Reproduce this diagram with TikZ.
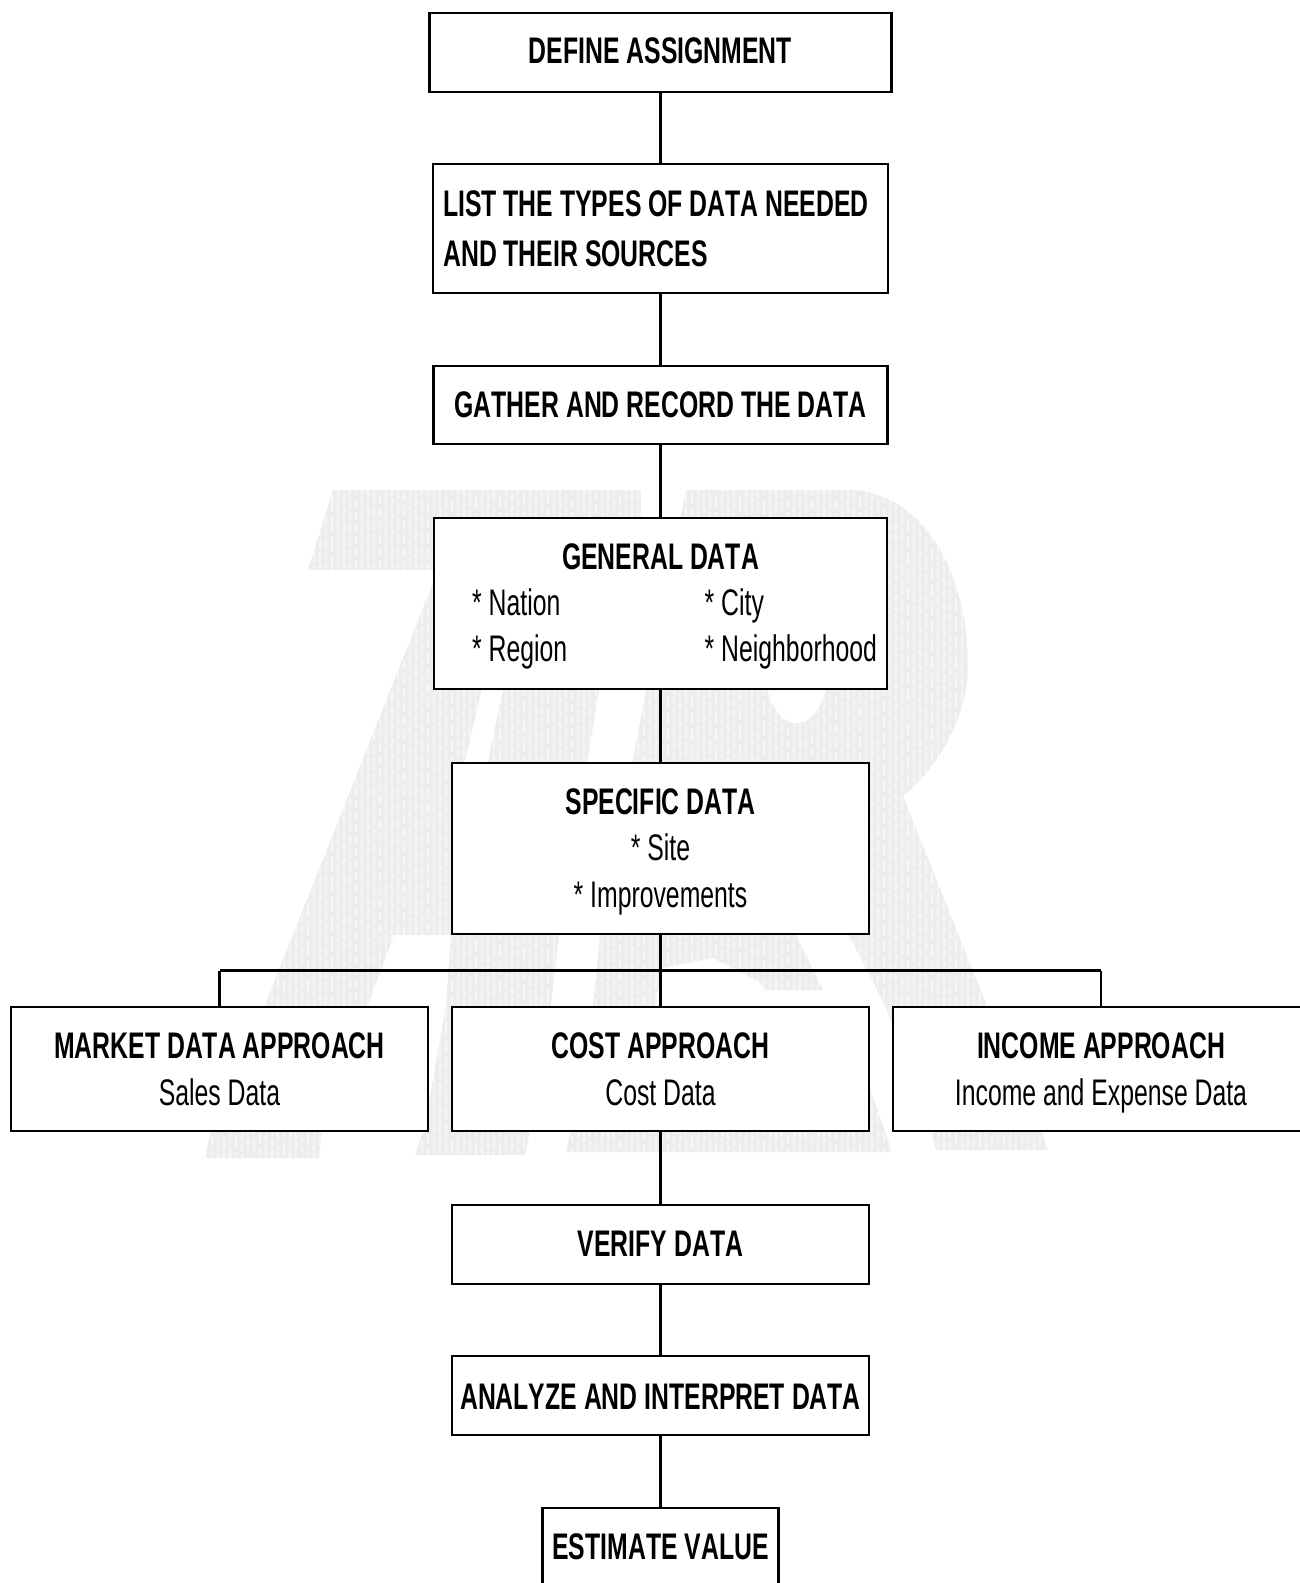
\documentclass[tikz,border=0pt]{standalone}
\usepackage{fontspec}
\setmainfont[FakeStretch=0.67,Kerning=Off]{Liberation Sans}
\definecolor{wm}{HTML}{EDEDED}
\tikzset{
  box/.style={draw=black,line width=2.8pt,fill=white,inner sep=0pt,text=black,align=center,font=\fontsize{37}{46.5}\selectfont},
  plain/.style={inner sep=0pt,text=black,align=left,font=\fontsize{37}{46.5}\selectfont},
  link/.style={draw=black,line width=2.4pt},
  buslink/.style={draw=black,line width=3pt},
  grain/.style={draw=white,line width=1.6pt,opacity=0.55}
}
\begin{document}
\begin{tikzpicture}[x=1pt,y=-1pt]
\useasboundingbox (0,0) rectangle (1300,1583);
\clip (0,0) rectangle (1300,1583);
\fill[white] (0,0) rectangle (1300,1583);
% watermark: letter A
\fill[wm] (333,490) -- (641,490) -- (640,570) -- (308,570) -- cycle;
\fill[wm] (442,560) -- (520,560) -- (483,684) -- (463,770) -- (451,782) -- (451,935) -- (394,935) -- (368,1005) -- (322,1130) -- (319,1158) -- (205,1158) -- (212,1125) -- (265,1005) -- cycle;
\fill[wm] (545,560) -- (640,560) -- (600,684) -- (559,935) -- (551,1005) -- (530,1130) -- (525,1155) -- (415,1155) -- (425,1125) -- (446,1005) -- (451,935) -- (503,690) -- cycle;
% watermark: letter R
\fill[wm,even odd rule] (686,490) -- (858,490) .. controls (930,500) and (968,580) .. (968,666) .. controls (968,720) and (935,770) .. (903,796) -- (987,1006) -- (1040,1125) -- (1048,1150) -- (936,1150) -- (930,1125) -- (885,1005) -- (848,934) -- (848,925) -- (791,925) -- (823,990) -- (765,990) -- (760,982) -- (713,958) -- (662,968) -- (655,1005) -- (593,1005) -- (600,935) -- (648,680) -- cycle
  (767,689) .. controls (778,735) and (815,735) .. (826,689) -- cycle;
\fill[wm] (593,1005) -- (572,1125) -- (566,1152) -- (892,1152) -- (869,1085) -- (850,1085) -- (655,1005) -- cycle;
% watermark: grain
\foreach \gx [count=\gi] in {200,206,...,1056} {
  \pgfmathsetmacro{\ga}{7+mod(\gi*7,9)}
  \pgfmathsetmacro{\gb}{2+mod(\gi*5,4)}
  \draw[grain,dash pattern=on \ga pt off \gb pt,dash phase=\gi*3] (\gx,485) -- (\gx,1162);
}
% boxes
\node[box,minimum width=462,minimum height=79,text height=27,text depth=5] (define) at (660.5,52.5) {\textbf{DEFINE ASSIGNMENT}};
\node[box,minimum width=455,minimum height=129,align=left] (list) at (660.5,228.5) {\textbf{LIST THE TYPES OF DATA NEEDED}\hspace*{9pt}\\[3.5pt]\textbf{AND THEIR SOURCES}};
\node[box,minimum width=454,minimum height=78,text height=27,text depth=3] (gather) at (660.5,405) {\textbf{GATHER AND RECORD THE DATA}};
\node[box,minimum width=453,minimum height=171,text height=27,text depth=96] (general) at (660.5,603.5) {\textbf{GENERAL DATA}};
\node[plain,anchor=base west] (gencola) at (472,661.5) {* Nation\\* Region};
\node[plain,anchor=base west] (gencolb) at (704.5,661.5) {* City\\* Neighborhood};
\node[box,minimum width=417,minimum height=171] (specific) at (660.5,848.5) {\textbf{SPECIFIC DATA}\\[-1pt]* Site\\[1pt]\smash{* Improvements}};
\node[box,minimum width=417,minimum height=124] (market) at (219.5,1069) {\textbf{MARKET DATA APPROACH}\\Sales Data};
\node[box,minimum width=417,minimum height=124] (cost) at (660.5,1069) {\textbf{COST APPROACH}\\Cost Data};
\node[box,minimum width=416,minimum height=124] (income) at (1101,1069) {\textbf{INCOME APPROACH}\\\smash{Income and Expense Data}};
\node[box,minimum width=417,minimum height=79,text height=27,text depth=4] (verify) at (660.5,1244.5) {\textbf{VERIFY DATA}};
\node[box,minimum width=417,minimum height=79,text height=27,text depth=0] (analyze) at (660.5,1395.5) {\textbf{ANALYZE AND INTERPRET DATA}};
\node[box,minimum width=236,minimum height=92,text height=27,text depth=17] (estimate) at (660.5,1554) {\textbf{ESTIMATE VALUE}};
% connectors
\coordinate (bus) at (660.5,970.5);
\draw[link] (define.south) -- (list.north);
\draw[link] (list.south) -- (gather.north);
\draw[link] (gather.south) -- (general.north);
\draw[link] (general.south) -- (specific.north);
\draw[link] (specific.south) -- (cost.north);
\draw[link] (market.north) -- (market.north |- bus);
\draw[link] (income.north |- bus) -- (income.north);
\draw[buslink] (market.north |- bus) -- (income.north |- bus);
\draw[link] (cost.south) -- (verify.north);
\draw[link] (verify.south) -- (analyze.north);
\draw[link] (analyze.south) -- (estimate.north);
\end{tikzpicture}
\end{document}
